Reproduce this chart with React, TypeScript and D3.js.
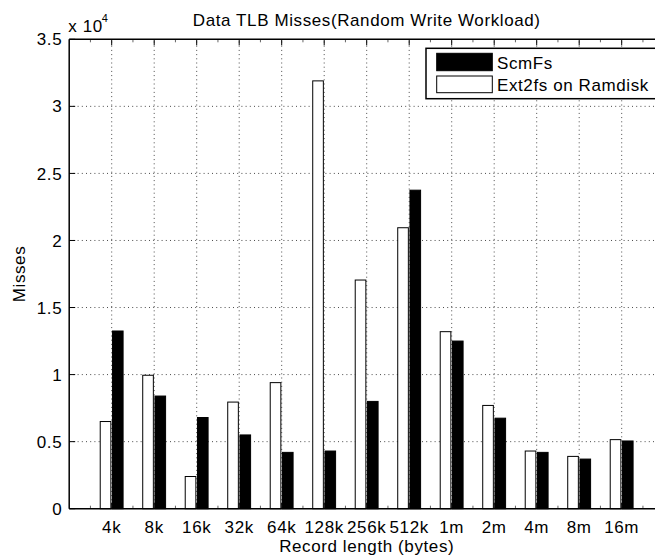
import React from "react";
import * as d3 from "d3";

const categories = ["4k", "8k", "16k", "32k", "64k", "128k", "256k", "512k", "1m", "2m", "4m", "8m", "16m"];
const ext2fsValues = [6500, 9950, 2400, 7950, 9400, 31900, 17050, 20950, 13200, 7700, 4300, 3900, 5150];
const scmfsValues = [13250, 8400, 6800, 5500, 4200, 4300, 8000, 23750, 12500, 6750, 4200, 3700, 5050];
const yTicks = [0, 0.5, 1, 1.5, 2, 2.5, 3, 3.5];
const yTickLabels = ["0", "0.5", "1", "1.5", "2", "2.5", "3", "3.5"];
const seriesNames = ["ScmFs", "Ext2fs on Ramdisk"];

const W = 655;
const H = 558;
const FONT = "'Liberation Sans', Arial, Helvetica, sans-serif";

export default function App() {
  const x = d3.scaleLinear().domain([0, 14]).range([69.2, 664.2]);
  const y = d3.scaleLinear().domain([0, 3.5]).range([508.7, 39.3]);
  const scale = 1e4;
  const barW = 0.25;
  const offW = -0.145;
  const offB = 0.143;
  const left = x(0);
  const right = x(14);
  const top = y(3.5);
  const bottom = y(0);
  const txt = { fontFamily: FONT, fontSize: 17, letterSpacing: 0.6, fill: "#000" } as const;
  const majorX = categories.map((_, i) => i + 1);
  const minorX = d3.range(0.5, 14, 1);

  return (
    <svg width={W} height={H} style={{ position: "absolute", left: 0, top: 0, background: "#fff" }}>
      <rect x={0} y={0} width={W} height={H} fill="#fff" />
      {/* grid */}
      <g stroke="#000" strokeWidth={1} strokeDasharray="1,3.2" opacity={0.7}>
        {majorX.map((c) => (
          <line key={"gx" + c} x1={x(c)} x2={x(c)} y1={bottom} y2={top} />
        ))}
        {yTicks.slice(1, -1).map((t) => (
          <line key={"gy" + t} x1={left} x2={right} y1={y(t)} y2={y(t)} />
        ))}
      </g>
      {/* bars */}
      {categories.map((c, i) => {
        const cx = i + 1;
        const vw = ext2fsValues[i] / scale;
        const vb = scmfsValues[i] / scale;
        return (
          <g key={c}>
            <rect
              x={x(cx + offW - barW / 2)}
              y={y(vw)}
              width={x(barW) - x(0)}
              height={bottom - y(vw)}
              fill="#fff"
              stroke="#000"
              strokeWidth={1}
            />
            <rect
              x={x(cx + offB - barW / 2)}
              y={y(vb)}
              width={x(barW) - x(0)}
              height={bottom - y(vb)}
              fill="#000"
              stroke="#000"
              strokeWidth={1}
            />
          </g>
        );
      })}
      {/* ticks */}
      <g stroke="#000" strokeWidth={1}>
        {majorX.map((c) => (
          <g key={"tx" + c}>
            <line x1={x(c)} x2={x(c)} y1={bottom} y2={bottom - 6} />
            <line x1={x(c)} x2={x(c)} y1={top} y2={top + 6} />
          </g>
        ))}
        {minorX.map((c) => (
          <g key={"mx" + c} opacity={0.6}>
            <line x1={x(c)} x2={x(c)} y1={bottom} y2={bottom - 3} />
            <line x1={x(c)} x2={x(c)} y1={top} y2={top + 3} />
          </g>
        ))}
        {yTicks.map((t) => (
          <line key={"ty" + t} x1={left} x2={left + 6} y1={y(t)} y2={y(t)} />
        ))}
      </g>
      {/* axes box */}
      <g stroke="#000" strokeWidth={1.5} fill="none">
        <line x1={left} x2={right} y1={bottom} y2={bottom} />
        <line x1={left} x2={right} y1={top} y2={top} />
        <line x1={left} x2={left} y1={top} y2={bottom} />
        <line x1={right} x2={right} y1={top} y2={bottom} />
      </g>
      {/* tick labels */}
      {yTicks.map((t, i) => (
        <text key={"yl" + t} x={left - 7} y={y(t)} dy="0.36em" textAnchor="end" {...txt}>
          {yTickLabels[i]}
        </text>
      ))}
      {categories.map((c, i) => (
        <text key={"xl" + c} x={x(i + 1)} y={532.7} textAnchor="middle" {...txt}>
          {c}
        </text>
      ))}
      {/* exponent */}
      <text x={68.3} y={31.7} {...txt}>
        x 10
        <tspan fontSize={11} letterSpacing={0} dx={-1} dy={-10}>
          4
        </tspan>
      </text>
      {/* title and labels */}
      <text x={(left + right) / 2} y={26} textAnchor="middle" {...txt}>
        Data TLB Misses(Random Write Workload)
      </text>
      <text x={(left + right) / 2} y={552} textAnchor="middle" {...txt}>
        Record length (bytes)
      </text>
      <text transform={`translate(25, ${(top + bottom) / 2}) rotate(-90)`} textAnchor="middle" {...txt}>
        Misses
      </text>
      {/* legend */}
      <g>
        <rect x={426} y={48.3} width={300} height={50.4} fill="#fff" stroke="#000" strokeWidth={1.5} />
        <rect x={436.7} y={53.3} width={55.6} height={17.4} fill="#000" stroke="#000" strokeWidth={1} />
        <rect x={436.7} y={76} width={55.6} height={16.7} fill="#fff" stroke="#000" strokeWidth={1} />
        <text x={497} y={69} {...txt}>
          {seriesNames[0]}
        </text>
        <text x={497} y={90.5} {...txt}>
          {seriesNames[1]}
        </text>
      </g>
    </svg>
  );
}
